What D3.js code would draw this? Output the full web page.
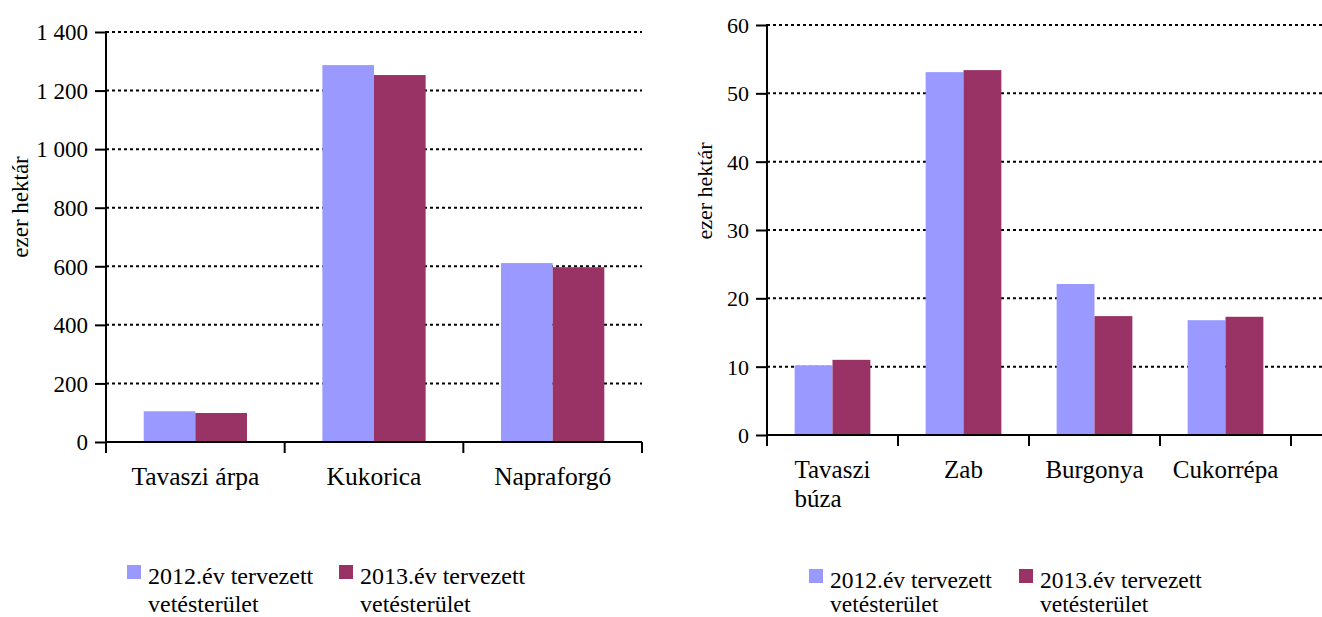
<!DOCTYPE html>
<html>
<head>
<meta charset="utf-8">
<script src="https://cdn.jsdelivr.net/npm/d3@7"></script>
<style>
  body { margin: 0; background: #fff; }
  svg text { font-family: "Liberation Serif", "Times New Roman", Times, serif !important; fill: #000; }
</style>
</head>
<body>
<svg id="chart"></svg>
<script>
// data
const leftCategories = [["Tavaszi árpa"], ["Kukorica"], ["Napraforgó"]];
const left2012 = [105, 1287, 611];
const left2013 = [99, 1253, 597];
const leftTicks = [0, 200, 400, 600, 800, 1000, 1200, 1400];

const rightCategories = [["Tavaszi", "búza"], ["Zab"], ["Burgonya"], ["Cukorrépa"]];
const right2012 = [10.2, 53.1, 22.1, 16.8];
const right2013 = [11.0, 53.4, 17.4, 17.3];
const rightTicks = [0, 10, 20, 30, 40, 50, 60];

const seriesNames = [["2012.év tervezett", "vetésterület"], ["2013.év tervezett", "vetésterület"]];
const seriesColors = ["#9999ff", "#993366"];
const yTitle = "ezer hektár";

const W = 1322, H = 617;
const FONT = '"Liberation Serif", "Times New Roman", Times, serif';
const svg = d3.select('#chart').attr('width', W).attr('height', H);

const huFormat = d3.formatLocale({decimal: ",", thousands: "\u00a0", grouping: [3], currency: ["", " Ft"]}).format(",d");

function drawChart(cfg) {
  let g = svg.append('g').attr('font-family', FONT);

  let x = d3.scaleBand()
    .domain(d3.range(cfg.cats.length))
    .range([cfg.x0, cfg.x1]);

  // two bars side by side in the middle of each category
  let inner = d3.scaleBand()
    .domain([0, 1])
    .range([0, x.bandwidth()])
    .paddingOuter(0.73)
    .paddingInner(0);

  let y = d3.scaleLinear()
    .domain([0, d3.max(cfg.ticks)])
    .range([cfg.y0, cfg.y1]);

  // dotted grid
  g.append('g')
    .selectAll('line')
    .data(cfg.ticks.filter(d => d > 0))
    .enter()
      .append('line')
      .attr('x1', cfg.x0)
      .attr('x2', cfg.gridEnd)
      .attr('y1', d => y(d))
      .attr('y2', d => y(d))
      .attr('stroke', '#000')
      .attr('stroke-width', 2)
      .attr('stroke-dasharray', '3,3');

  // bars
  cfg.series.forEach((vals, s) => {
    g.append('g')
      .selectAll('rect')
      .data(vals)
      .enter()
        .append('rect')
        .attr('x', (d, i) => x(i) + inner(s))
        .attr('y', d => y(d))
        .attr('width', inner.bandwidth())
        .attr('height', d => y(0) - y(d))
        .attr('fill', seriesColors[s]);
  });

  // y axis
  let yAxis = d3.axisLeft(y)
    .tickValues(cfg.ticks)
    .tickFormat(cfg.fmt)
    .tickSize(11)
    .tickPadding(7)
    .tickSizeOuter(0);
  let gY = g.append('g')
    .attr('transform', 'translate(' + cfg.x0 + ',0)')
    .call(yAxis)
    .attr('font-family', FONT);
  gY.select('.domain').remove();
  gY.selectAll('line').attr('stroke', '#000').attr('stroke-width', 2);
  gY.selectAll('text')
    .style('font-size', cfg.tickFont + 'px')
    .attr('dy', '0.34em');
  g.append('line')
    .attr('x1', cfg.x0).attr('x2', cfg.x0)
    .attr('y1', y(d3.max(cfg.ticks)) - 1).attr('y2', cfg.y0 + 11)
    .attr('stroke', '#000').attr('stroke-width', 2);

  // x axis line and ticks at band edges
  g.append('line')
    .attr('x1', cfg.x0).attr('x2', cfg.gridEnd)
    .attr('y1', y(0)).attr('y2', y(0))
    .attr('stroke', '#000').attr('stroke-width', 2);
  let edges = d3.range(cfg.cats.length + 1).map(i => i < cfg.cats.length ? x(i) : cfg.x1);
  g.append('g')
    .selectAll('line')
    .data(edges)
    .enter()
      .append('line')
      .attr('x1', d => d).attr('x2', d => d)
      .attr('y1', y(0)).attr('y2', y(0) + 11)
      .attr('stroke', '#000').attr('stroke-width', 2);

  // category labels
  cfg.cats.forEach((lines, i) => {
    let cx = x(i) + x.bandwidth() / 2;
    let t = g.append('text')
      .attr('x', cx)
      .attr('y', y(0) + 43)
      .attr('text-anchor', 'middle')
      .style('font-size', cfg.catFont + 'px')
      .text(lines[0]);
    if (lines.length > 1) {
      let w = t.node().getComputedTextLength();
      g.append('text')
        .attr('x', cx - w / 2)
        .attr('y', y(0) + 43 + cfg.catLine)
        .style('font-size', cfg.catFont + 'px')
        .text(lines[1]);
    }
  });

  // y title
  g.append('text')
    .attr('transform', 'translate(' + cfg.titleX + ',' + cfg.titleY + ') rotate(-90)')
    .attr('text-anchor', 'middle')
    .attr('dy', '0.35em')
    .style('font-size', cfg.titleFont + 'px')
    .text(yTitle);

  // legend
  seriesNames.forEach((lines, s) => {
    let lx = cfg.legendX[s];
    g.append('rect')
      .attr('x', lx).attr('y', cfg.legendY - 19)
      .attr('width', 14).attr('height', 14)
      .attr('fill', seriesColors[s]);
    lines.forEach((ln, k) => {
      g.append('text')
        .attr('x', lx + 21)
        .attr('y', cfg.legendY + k * cfg.legendLine)
        .style('font-size', cfg.legendFont + 'px')
        .text(ln);
    });
  });
}

drawChart({
  cats: leftCategories, series: [left2012, left2013], ticks: leftTicks,
  fmt: huFormat,
  x0: 106, x1: 642, gridEnd: 642, y0: 442, y1: 32,
  tickFont: 23, catFont: 25.5, catLine: 29, titleFont: 23, titleX: 20, titleY: 207,
  legendX: [127, 339], legendY: 584, legendLine: 28, legendFont: 24
});

drawChart({
  cats: rightCategories, series: [right2012, right2013], ticks: rightTicks,
  fmt: d3.format('d'),
  x0: 767, x1: 1291, gridEnd: 1322, y0: 435, y1: 25,
  tickFont: 22, catFont: 25, catLine: 29, titleFont: 22, titleX: 704, titleY: 191,
  legendX: [809, 1019], legendY: 588, legendLine: 24, legendFont: 23.5
});
</script>
</body>
</html>
